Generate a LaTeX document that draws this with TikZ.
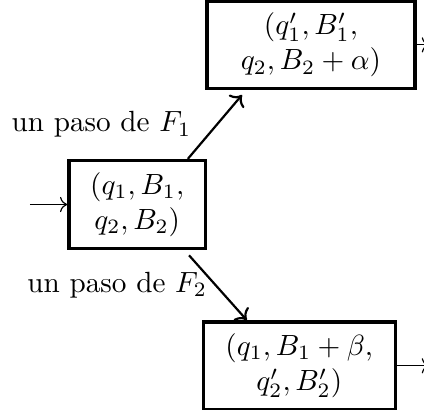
\documentclass[tikz,border=0pt]{standalone}
\usetikzlibrary{arrows.meta,positioning}

\begin{document}
\begin{tikzpicture}[
  confbox/.style={draw,line width=1.2pt,align=center,inner sep=4pt},
  steparrow/.style={->,line width=0.75pt},
  lbl/.style={inner sep=0pt}
]
\useasboundingbox (0,0) rectangle (5.10,-4.92);
\node[confbox,minimum width=1.64cm,minimum height=1.0cm] (c) at (1.65,-2.46) {$(q_1, B_1,$\\$q_2, B_2)$};
\node[confbox,minimum width=2.5cm,minimum height=1.0cm] (t) at (3.74,-0.54) {$(q_1', B_1',$\\$q_2, B_2+\alpha)$};
\node[confbox,minimum width=2.31cm,minimum height=1.0cm] (b) at (3.60,-4.40) {$(q_1, B_1+\beta,$\\$q_2', B_2')$};
\coordinate (in) at (0.36,-2.46);
\coordinate (tout) at (5.16,-0.54);
\coordinate (bout) at (5.16,-4.40);
% transitions
\draw[->] (in) -- (c.west);
\draw[steparrow,shorten >=2pt] (c.42) -- (t.215);
\draw[steparrow,shorten <=2.4pt] (c.-44) -- (b.139);
\draw[->] (t.east) -- (tout);
\draw[->] (b.east) -- (bout);
\node[lbl] (l1) at (1.22,-1.50) {un paso de $F_1$};
\node[lbl] (l2) at (1.41,-3.43) {un paso de $F_2$};
\end{tikzpicture}
\end{document}
